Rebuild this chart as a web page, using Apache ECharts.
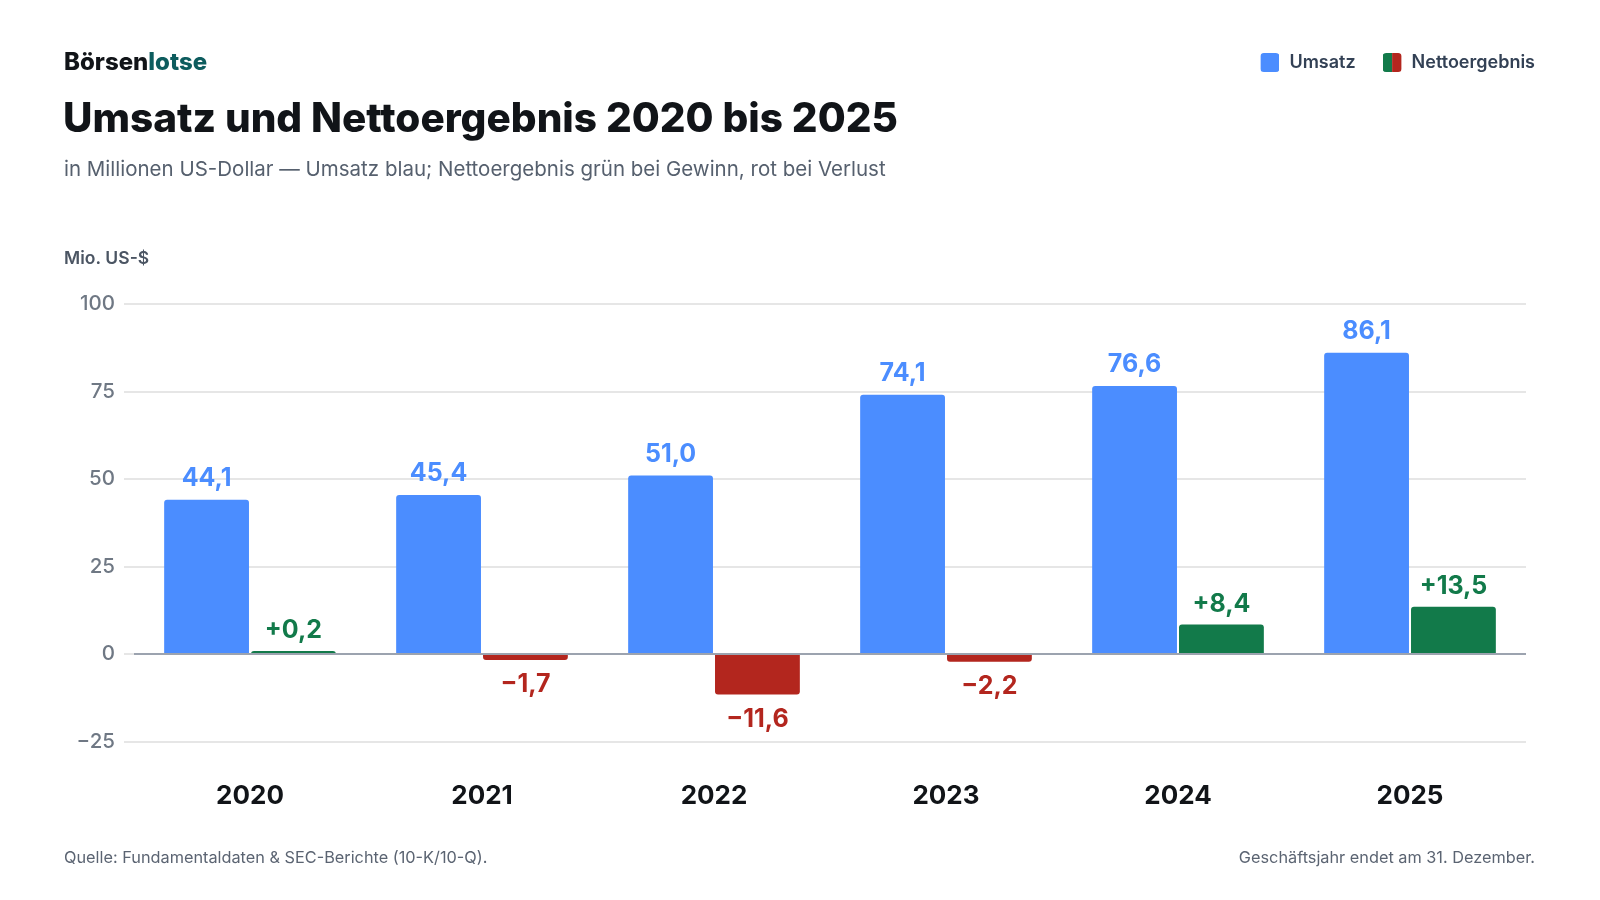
<!DOCTYPE html>
<html>
<head>
<meta charset="utf-8">
<script src="https://cdn.jsdelivr.net/npm/echarts@6/dist/echarts.min.js"></script>
<style>
  html, body { margin: 0; padding: 0; background: #ffffff; }
  #chart { width: 1600px; height: 900px; }
</style>
</head>
<body>
<div id="chart"></div>
<script>
// ---- data ----
const categories = ['2020', '2021', '2022', '2023', '2024', '2025'];
const umsatz = [44.1, 45.4, 51.0, 74.1, 76.6, 86.1];
const netto = [0.2, -1.7, -11.6, -2.2, 8.4, 13.5];
const yMin = -25;
const yMax = 100;
const yStep = 25;

// ---- styles ----
const FONT = 'Inter, "Noto Sans", "DejaVu Sans", sans-serif';
const BLUE = '#4b8dff';
const GREEN = '#127a4a';
const RED = '#b3261e';

function fmt(v, withSign) {
  const s = Math.abs(v).toFixed(1).replace('.', ',');
  if (v < 0) return '\u2212' + s;
  return (withSign ? '+' : '') + s;
}

function svgIcon(inner) {
  const svg = '<svg xmlns="http://www.w3.org/2000/svg" width="19" height="19" viewBox="0 0 19 19">' + inner + '</svg>';
  return 'image://data:image/svg+xml;charset=utf-8,' + encodeURIComponent(svg);
}
const iconUmsatz = svgIcon('<rect width="19" height="19" rx="3.5" fill="' + BLUE + '"/>');
const iconNetto = svgIcon('<defs><clipPath id="c"><rect width="19" height="19" rx="3.5"/></clipPath></defs>' +
  '<g clip-path="url(#c)"><rect width="9.5" height="19" fill="' + GREEN + '"/><rect x="9.5" width="9.5" height="19" fill="' + RED + '"/></g>');

const labelBase = { show: true, fontFamily: FONT, fontSize: 25, fontWeight: 700 };

const umsatzData = umsatz.map(v => ({
  value: v,
  itemStyle: { color: BLUE, borderRadius: [3, 3, 0, 0] },
  label: Object.assign({}, labelBase, { position: 'top', distance: 9, color: BLUE, formatter: fmt(v, false) })
}));

const nettoData = netto.map(v => {
  const pos = v >= 0;
  return {
    value: v,
    itemStyle: { color: pos ? GREEN : RED, borderRadius: pos ? [3, 3, 0, 0] : [0, 0, 3, 3] },
    label: Object.assign({}, labelBase, {
      position: pos ? 'top' : 'bottom',
      distance: pos ? 8 : 12,
      color: pos ? GREEN : RED,
      formatter: fmt(v, true)
    })
  };
});

const chart = echarts.init(document.getElementById('chart'), null, { renderer: 'canvas' });

chart.setOption({
  backgroundColor: '#ffffff',
  animation: false,
  textStyle: { fontFamily: FONT },
  title: [
    {
      text: '{a|Börsen}{b|lotse}',
      left: 64, top: 51, padding: 0,
      textStyle: {
        rich: {
          a: { fontFamily: FONT, fontSize: 24, fontWeight: 800, color: '#111418', lineHeight: 24 },
          b: { fontFamily: FONT, fontSize: 24, fontWeight: 800, color: '#0d5c5e', lineHeight: 24 }
        }
      }
    },
    {
      text: 'Umsatz und Nettoergebnis 2020 bis 2025',
      left: 63, top: 99, padding: 0,
      textStyle: { fontFamily: FONT, fontSize: 40.5, fontWeight: 800, color: '#111418', lineHeight: 41, letterSpacing: -0.7 }
    },
    {
      text: 'in Millionen US-Dollar \u2014 Umsatz blau; Nettoergebnis grün bei Gewinn, rot bei Verlust',
      left: 64, top: 160, padding: 0,
      textStyle: { fontFamily: FONT, fontSize: 20.5, fontWeight: 400, color: '#56606e', lineHeight: 20 }
    },
    {
      text: 'Mio. US-$',
      left: 64, top: 250, padding: 0,
      textStyle: { fontFamily: FONT, fontSize: 17.5, fontWeight: 600, color: '#4b5563', lineHeight: 17 }
    },
    {
      text: 'Quelle: Fundamentaldaten & SEC-Berichte (10-K/10-Q).',
      left: 64, top: 850, padding: 0,
      textStyle: { fontFamily: FONT, fontSize: 16.3, fontWeight: 400, color: '#5b6472', lineHeight: 16 }
    },
    {
      text: 'Geschäftsjahr endet am 31. Dezember.',
      right: 65, top: 850, padding: 0,
      textStyle: { fontFamily: FONT, fontSize: 16.3, fontWeight: 400, color: '#5b6472', lineHeight: 16 }
    }
  ],
  legend: {
    right: 65,
    top: 53,
    padding: 0,
    itemWidth: 19,
    itemHeight: 19,
    itemGap: 27,
    selectedMode: false,
    textStyle: { fontFamily: FONT, fontSize: 18, fontWeight: 600, color: '#334155', padding: [0, 0, 0, 5] },
    data: [
      { name: 'Umsatz', icon: iconUmsatz },
      { name: 'Nettoergebnis', icon: iconNetto }
    ]
  },
  grid: { left: 134, right: 74, top: 304, bottom: 158.5, containLabel: false },
  xAxis: {
    type: 'category',
    data: categories,
    axisLine: { show: false, onZero: false },
    axisTick: { show: false },
    axisLabel: { fontFamily: FONT, fontSize: 26, fontWeight: 700, color: '#111418', margin: 42 }
  },
  yAxis: {
    type: 'value',
    min: yMin,
    max: yMax,
    interval: yStep,
    axisLine: { show: false },
    axisTick: { show: true, length: 10, lineStyle: { color: '#e6e6e6', width: 2 } },
    splitLine: { lineStyle: { color: '#e6e6e6', width: 2 } },
    axisLabel: {
      fontFamily: FONT, fontSize: 20.5, fontWeight: 500, color: '#6f7884', margin: 19,
      formatter: v => (v < 0 ? '\u2212' + Math.abs(v) : String(v))
    }
  },
  series: [
    {
      name: 'Umsatz',
      type: 'bar',
      data: umsatzData,
      barGap: '2.4%',
      barCategoryGap: '26%',
      itemStyle: { color: BLUE }
    },
    {
      name: 'Nettoergebnis',
      type: 'bar',
      data: nettoData,
      barGap: '2.4%',
      barCategoryGap: '26%',
      barMinHeight: 3,
      itemStyle: { color: GREEN },
      markLine: {
        silent: true,
        symbol: ['none', 'none'],
        label: { show: false },
        lineStyle: { color: '#9ca3af', width: 2, type: 'solid' },
        data: [{ yAxis: 0 }]
      }
    }
  ]
});
</script>
</body>
</html>
